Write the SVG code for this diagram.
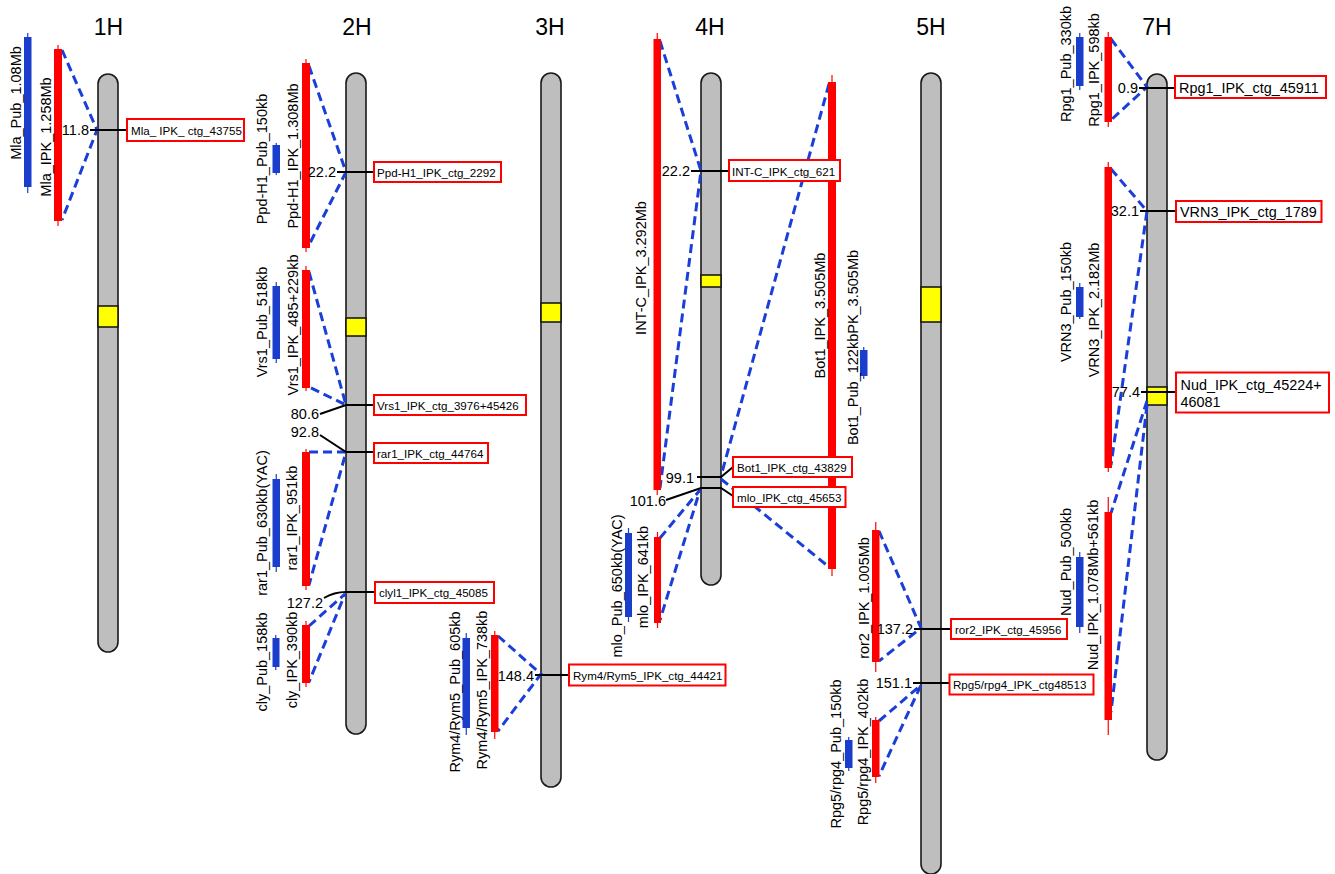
<svg xmlns="http://www.w3.org/2000/svg" width="1335" height="874" viewBox="0 0 1335 874">
<style>
.chr{fill:#bebebe;stroke:#1a1a1a;stroke-width:1.6}
.cen{fill:#ffff00;stroke:#1a1a1a;stroke-width:1.6}
.ipk{fill:#ff0000}
.pub{fill:#1a3dcc}
.wr{stroke:#ff0000;stroke-width:1.2}
.wb{stroke:#1a3dcc;stroke-width:1.2}
.dash{stroke:#1a3fd8;stroke-width:3;stroke-dasharray:9 5;fill:none}
.mk{stroke:#000;stroke-width:2;fill:none}
.box{fill:#fff;stroke:#ff0000;stroke-width:2}
text{font-family:"Liberation Sans",Arial,sans-serif;fill:#000}
.ttl{font-size:23px;text-anchor:middle}
.pos{font-size:14.5px;text-anchor:end}
.lab{font-size:11.6px}
.lab7{font-size:14.4px}
.v{font-size:14.5px;text-anchor:middle}
</style>

<g id="titles">
<text class="ttl" x="108.5" y="35">1H</text>
<text class="ttl" x="357" y="35">2H</text>
<text class="ttl" x="550" y="35">3H</text>
<text class="ttl" x="710" y="35">4H</text>
<text class="ttl" x="931" y="35">5H</text>
<text class="ttl" x="1157" y="35">7H</text>
</g>

<g id="chromosomes">
<g id="chr1H"><rect class="chr" x="98" y="74" width="20" height="578" rx="10"/><rect class="cen" x="98" y="306" width="20" height="21"/></g>
<g id="chr2H"><rect class="chr" x="346" y="73" width="20" height="661" rx="10"/><rect class="cen" x="346" y="318" width="20" height="18"/></g>
<g id="chr3H"><rect class="chr" x="541" y="73" width="20" height="714" rx="10"/><rect class="cen" x="541" y="303" width="20" height="19"/></g>
<g id="chr4H"><rect class="chr" x="701" y="73" width="20" height="512" rx="10"/><rect class="cen" x="701" y="275" width="20" height="12"/></g>
<g id="chr5H"><rect class="chr" x="921" y="73" width="20" height="801" rx="10"/><rect class="cen" x="921" y="287" width="20" height="35"/></g>
<g id="chr7H"><rect class="chr" x="1147" y="74" width="20" height="686" rx="10"/><rect class="cen" x="1147" y="387" width="20" height="18"/></g>
</g>

<g id="connectors">
<path class="dash" d="M62,50 L97,130 L62,220"/>
<path class="dash" d="M309,66 L346,172 L309,245"/>
<path class="dash" d="M309,272 L346,405 L309,387"/>
<path class="dash" d="M309,452 L346,452 L309,585"/>
<path class="dash" d="M309,626 L345,594 L309,682"/>
<path class="dash" d="M498,636 L541,674 L498,731"/>
<path class="dash" d="M660,41 L701,171 L660,488"/>
<path class="dash" d="M829,84 L721,476"/>
<path class="dash" d="M721,479 L829,567"/>
<path class="dash" d="M660,538 L700,490 L660,620"/>
<path class="dash" d="M879,531 L921,628 L879,661"/>
<path class="dash" d="M879,721 L921,685 L879,776"/>
<path class="dash" d="M1111,39 L1147,87 L1111,120"/>
<path class="dash" d="M1111,169 L1147,211 L1111,465"/>
<path class="dash" d="M1147,401 L1111,513"/>
<path class="dash" d="M1147,405 L1111,712"/>

<path class="mk" d="M90,130 L127,130"/>
<path class="mk" d="M337,172 L374,172"/>
<path class="mk" d="M320,414 L346,405 L374,405"/>
<path class="mk" d="M320,435 L346,452 L374,452"/>
<path class="mk" d="M324,598 Q334,592 346,592 L375,592"/>
<path class="mk" d="M535,675 L569,675"/>
<path class="mk" d="M691,171 L729,171"/>
<path class="mk" d="M697,477 L721,477 L733,467"/>
<path class="mk" d="M666,500 L701,488 L721,488 L733,496"/>
<path class="mk" d="M914,629 L951,629"/>
<path class="mk" d="M913,683 L949,683"/>
<path class="mk" d="M1139,88 L1175,88"/>
<path class="mk" d="M1140,211 L1176,211"/>
<path class="mk" d="M1141,392 L1176,392"/>
</g>

<g id="Mla">
<line class="wb" x1="27.75" y1="33" x2="27.75" y2="193"/><rect class="pub" x="24" y="37" width="7.5" height="150"/>
<line class="wr" x1="58" y1="45" x2="58" y2="226"/><rect class="ipk" x="54" y="49" width="8" height="172"/>
<text class="v" transform="translate(21,103) rotate(-90)">Mla_Pub_1.08Mb</text>
<text class="v" transform="translate(51,137) rotate(-90)">Mla_IPK_1.258Mb</text>
<text class="pos" x="89" y="135">11.8</text>
<rect class="box" x="127" y="119" width="117" height="22"/><text class="lab" x="131" y="134.5">Mla_ IPK_ ctg_43755</text>
</g>

<g id="Ppd-H1">
<line class="wb" x1="276.25" y1="143" x2="276.25" y2="175"/><rect class="pub" x="272.5" y="145" width="7.5" height="28"/>
<line class="wr" x1="306" y1="59" x2="306" y2="252"/><rect class="ipk" x="302" y="63" width="8" height="185"/>
<text class="v" transform="translate(267,159) rotate(-90)">Ppd-H1_Pub_150kb</text>
<text class="v" transform="translate(298,156) rotate(-90)">Ppd-H1_IPK_1.308Mb</text>
<text class="pos" x="336" y="177">22.2</text>
<rect class="box" x="374" y="162" width="127" height="20"/><text class="lab" x="377" y="176.5">Ppd-H1_IPK_ctg_2292</text>
</g>

<g id="Vrs1">
<line class="wb" x1="276.25" y1="282" x2="276.25" y2="363"/><rect class="pub" x="272.5" y="286" width="7.5" height="73"/>
<line class="wr" x1="306" y1="266" x2="306" y2="391"/><rect class="ipk" x="302" y="270" width="8" height="118"/>
<text class="v" transform="translate(267,322) rotate(-90)">Vrs1_Pub_518kb</text>
<text class="v" transform="translate(298,325) rotate(-90)">Vrs1_IPK_485+229kb</text>
<text class="pos" x="319" y="419">80.6</text>
<rect class="box" x="374" y="395" width="152" height="20"/><text class="lab" x="377" y="409.5">Vrs1_IPK_ctg_3976+45426</text>
</g>

<g id="rar1">
<line class="wb" x1="276.25" y1="474" x2="276.25" y2="572"/><rect class="pub" x="272.5" y="479" width="7.5" height="88"/>
<line class="wr" x1="306" y1="449" x2="306" y2="590"/><rect class="ipk" x="302" y="452" width="8" height="134"/>
<text class="v" transform="translate(267,523) rotate(-90)">rar1_Pub_630kb(YAC)</text>
<text class="v" transform="translate(297,518) rotate(-90)">rar1_IPK_951kb</text>
<text class="pos" x="319" y="437">92.8</text>
<rect class="box" x="374" y="443" width="114" height="20"/><text class="lab" x="377" y="457.5">rar1_IPK_ctg_44764</text>
</g>

<g id="cly">
<line class="wb" x1="275.75" y1="635" x2="275.75" y2="670"/><rect class="pub" x="272.5" y="638" width="7" height="29"/>
<line class="wr" x1="306" y1="621" x2="306" y2="687"/><rect class="ipk" x="302" y="625" width="8" height="58"/>
<text class="v" transform="translate(267,662) rotate(-90)">cly_Pub_158kb</text>
<text class="v" transform="translate(297,660) rotate(-90)">cly_IPK_390kb</text>
<text class="pos" x="323" y="608">127.2</text>
<rect class="box" x="375" y="582" width="119" height="21"/><text class="lab" x="379" y="597">clyl1_IPK_ctg_45085</text>
</g>

<g id="Rym4-Rym5">
<line class="wb" x1="466.25" y1="633" x2="466.25" y2="735"/><rect class="pub" x="462.5" y="638" width="7.5" height="90"/>
<line class="wr" x1="494.75" y1="631" x2="494.75" y2="739"/><rect class="ipk" x="491" y="635" width="7.5" height="97"/>
<text class="v" transform="translate(460,692) rotate(-90)">Rym4/Rym5_Pub_605kb</text>
<text class="v" transform="translate(487,690) rotate(-90)">Rym4/Rym5_IPK_738kb</text>
<text class="pos" x="534" y="681">148.4</text>
<rect class="box" x="569" y="664.5" width="156.5" height="21"/><text class="lab" x="573" y="680">Rym4/Rym5_IPK_ctg_44421</text>
</g>

<g id="Bot1">
<line class="wr" x1="832" y1="75" x2="832" y2="576"/><rect class="ipk" x="828" y="82" width="8" height="487"/>
<line class="wb" x1="863.75" y1="347" x2="863.75" y2="379"/><rect class="pub" x="860" y="350" width="7.5" height="26"/>
<text class="v" transform="translate(825,315.5) rotate(-90)">Bot1_IPK_3.505Mb</text>
<text class="v" transform="translate(858,347.5) rotate(-90)">Bot1_Pub_122kbPK_3.505Mb</text>
<text class="pos" x="694" y="483">99.1</text>
<rect class="box" x="733" y="457" width="119" height="20"/><text class="lab" x="737" y="471.5">Bot1_IPK_ctg_43829</text>
</g>

<g id="INT-C">
<line class="wr" x1="657.25" y1="33" x2="657.25" y2="495"/><rect class="ipk" x="653.5" y="39" width="7.5" height="451"/>
<text class="v" transform="translate(646,268) rotate(-90)">INT-C_IPK_3.292Mb</text>
<text class="pos" x="690" y="176">22.2</text>
<rect class="box" x="729" y="160" width="111" height="21"/><text class="lab" x="732" y="175.5">INT-C_IPK_ctg_621</text>
</g>

<g id="mlo">
<line class="wb" x1="628.5" y1="528" x2="628.5" y2="622"/><rect class="pub" x="625" y="533" width="7" height="84"/>
<line class="wr" x1="657.5" y1="532" x2="657.5" y2="628"/><rect class="ipk" x="654" y="537" width="7" height="86"/>
<text class="v" transform="translate(622,586) rotate(-90)">mlo_Pub_650kb(YAC)</text>
<text class="v" transform="translate(648,577) rotate(-90)">mlo_IPK_641kb</text>
<text class="pos" x="666" y="506">101.6</text>
<rect class="box" x="733" y="487" width="112.5" height="20"/><text class="lab" x="737" y="501.5">mlo_IPK_ctg_45653</text>
</g>

<g id="ror2">
<line class="wr" x1="875.75" y1="522" x2="875.75" y2="672"/><rect class="ipk" x="872" y="530" width="7.5" height="132"/>
<text class="v" transform="translate(869,598) rotate(-90)">ror2_IPK_1.005Mb</text>
<text class="pos" x="913" y="634">137.2</text>
<rect class="box" x="951" y="619" width="116" height="20"/><text class="lab" x="955" y="633.5">ror2_IPK_ctg_45956</text>
</g>

<g id="Rpg5-rpg4">
<line class="wb" x1="848.75" y1="737" x2="848.75" y2="771"/><rect class="pub" x="845" y="740" width="7.5" height="28"/>
<line class="wr" x1="875.75" y1="717" x2="875.75" y2="783"/><rect class="ipk" x="872" y="720" width="7.5" height="57"/>
<text class="v" transform="translate(840.5,754) rotate(-90)">Rpg5/rpg4_Pub_150kb</text>
<text class="v" transform="translate(868,752) rotate(-90)">Rpg5/rpg4_IPK_402kb</text>
<text class="pos" x="912" y="688">151.1</text>
<rect class="box" x="949.5" y="674.5" width="144" height="20"/><text class="lab" x="953" y="689">Rpg5/rpg4_IPK_ctg48513</text>
</g>

<g id="Rpg1">
<line class="wb" x1="1079.75" y1="33" x2="1079.75" y2="90"/><rect class="pub" x="1076" y="37" width="7.5" height="49"/>
<line class="wr" x1="1108.25" y1="32" x2="1108.25" y2="127"/><rect class="ipk" x="1104.5" y="37" width="7.5" height="85"/>
<text class="v" transform="translate(1071,64) rotate(-90)">Rpg1_Pub_330kb</text>
<text class="v" transform="translate(1099,70) rotate(-90)">Rpg1_IPK_598kb</text>
<text class="pos" x="1138" y="93">0.9</text>
<rect class="box" x="1175" y="76" width="151" height="22"/><text class="lab7" x="1179" y="92.5">Rpg1_IPK_ctg_45911</text>
</g>

<g id="VRN3">
<line class="wb" x1="1079.75" y1="283" x2="1079.75" y2="319"/><rect class="pub" x="1076" y="287" width="7.5" height="30"/>
<line class="wr" x1="1108.25" y1="162" x2="1108.25" y2="472"/><rect class="ipk" x="1104.5" y="167" width="7.5" height="301"/>
<text class="v" transform="translate(1071,302) rotate(-90)">VRN3_Pub_150kb</text>
<text class="v" transform="translate(1099,310) rotate(-90)">VRN3_IPK_2.182Mb</text>
<text class="pos" x="1139" y="216">32.1</text>
<rect class="box" x="1176" y="201" width="145.5" height="21"/><text class="lab7" x="1180" y="217">VRN3_IPK_ctg_1789</text>
</g>

<g id="Nud">
<line class="wb" x1="1079.75" y1="552" x2="1079.75" y2="633"/><rect class="pub" x="1076" y="557" width="7.5" height="70"/>
<line class="wr" x1="1108.25" y1="497" x2="1108.25" y2="735"/><rect class="ipk" x="1104.5" y="512" width="7.5" height="208"/>
<text class="v" transform="translate(1071,562) rotate(-90)">Nud_Pub_500kb</text>
<text class="v" transform="translate(1098,585) rotate(-90)">Nud_IPK_1.078Mb+561kb</text>
<text class="pos" x="1140" y="397">77.4</text>
<rect class="box" x="1176" y="372.5" width="153" height="40"/>
<text class="lab7" x="1180.5" y="389.5">Nud_IPK_ctg_45224+</text>
<text class="lab7" x="1180.5" y="406.5">46081</text>
</g>
</svg>
